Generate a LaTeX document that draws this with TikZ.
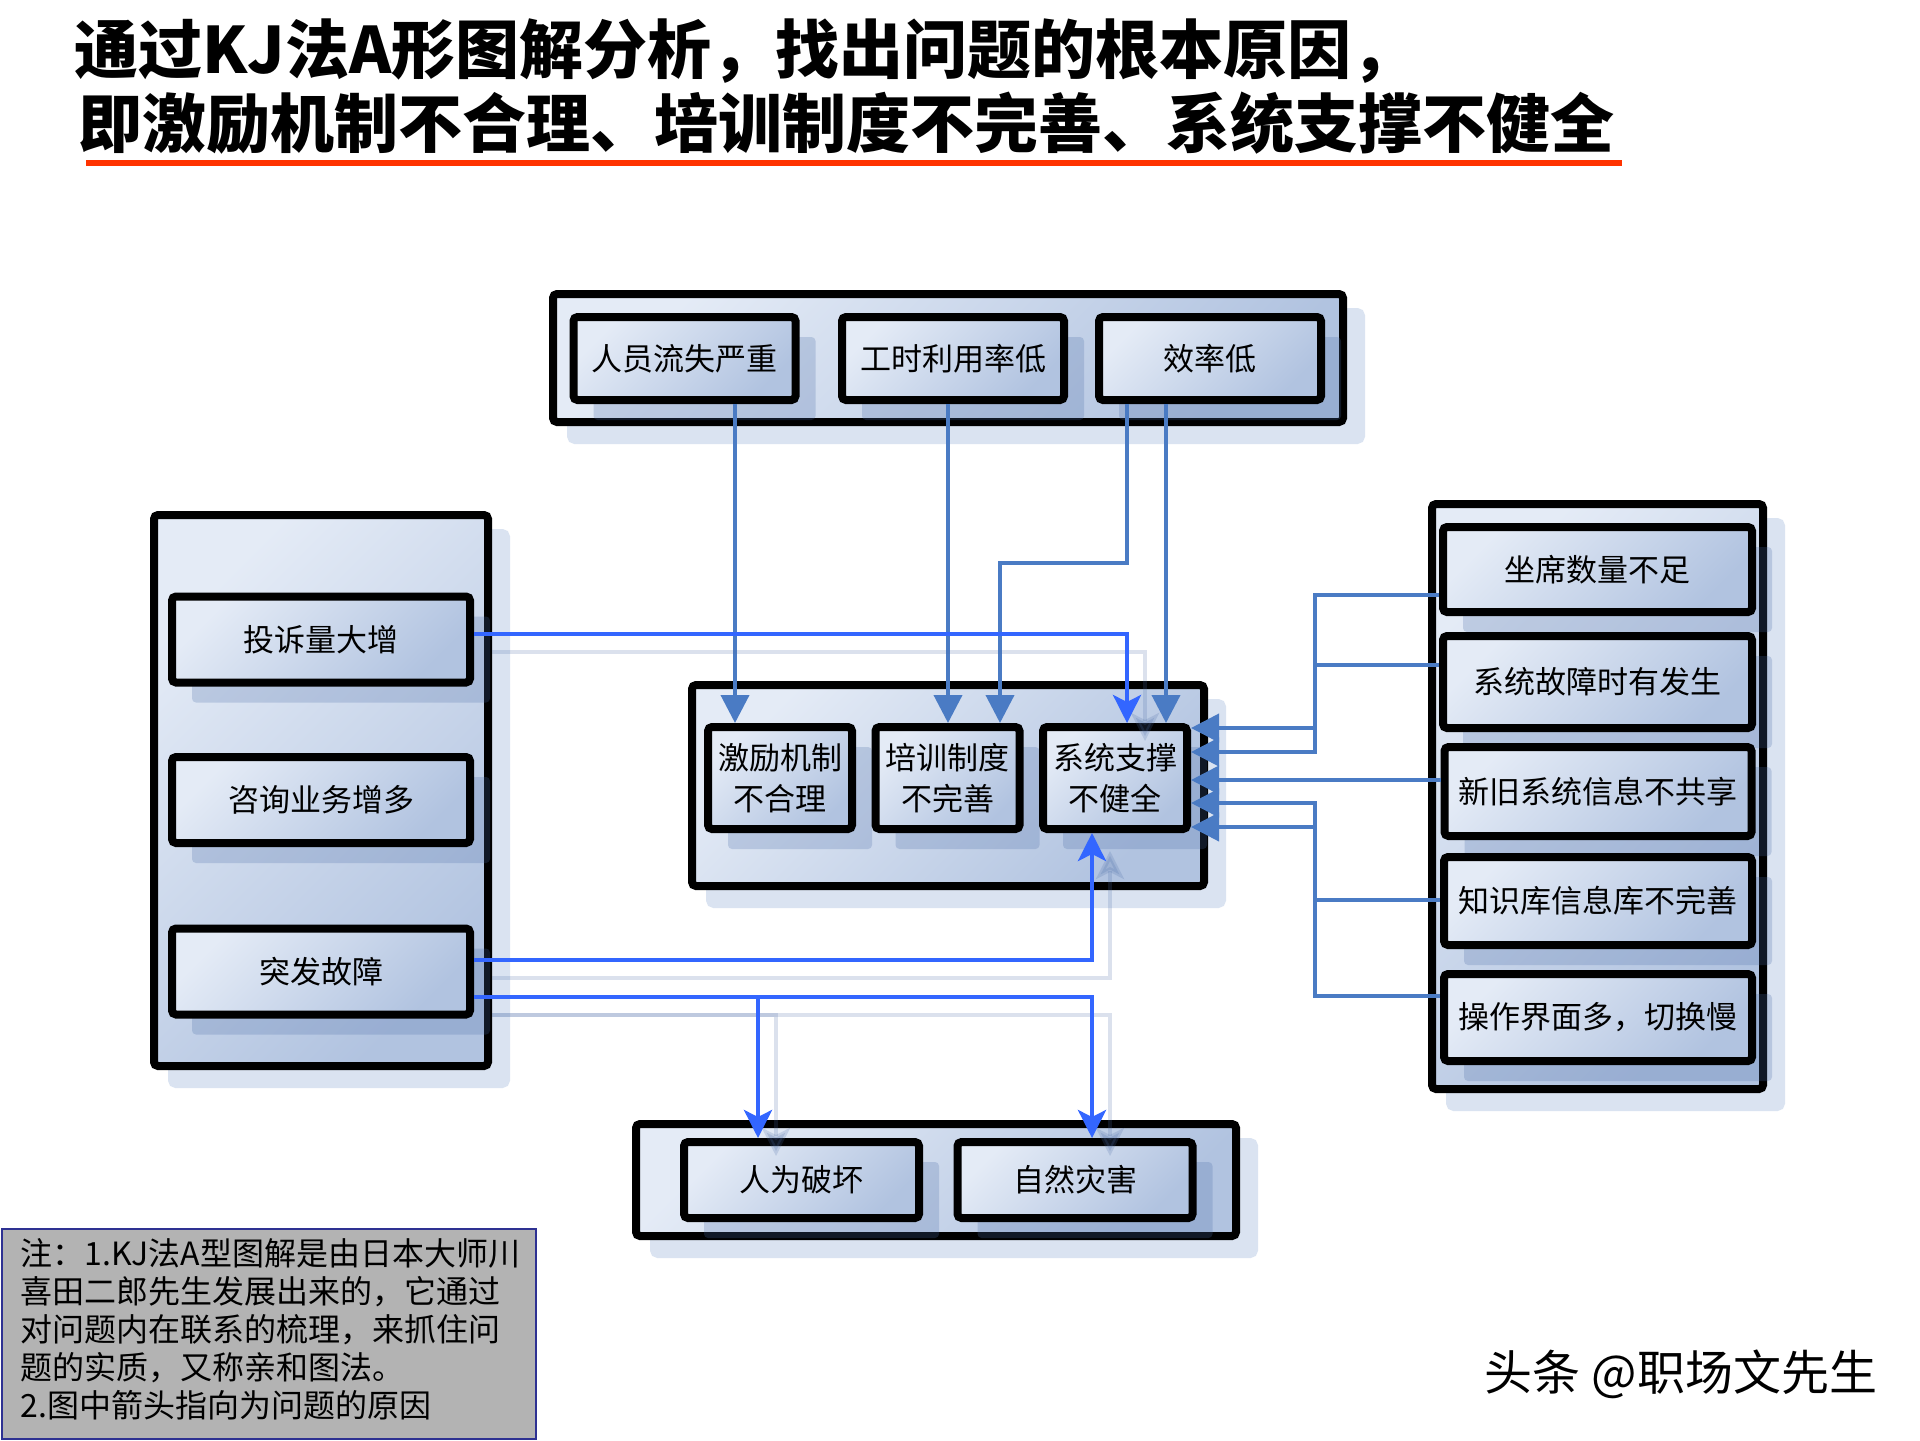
\documentclass[tikz,border=0pt]{standalone}
\usepackage{fontspec}
\setmainfont{Noto Sans CJK SC}
\usetikzlibrary{arrows.meta,shadows}
\definecolor{boxlight}{HTML}{E4EBF6}
\definecolor{boxdark}{HTML}{B1C3E0}
\definecolor{gshadow}{HTML}{DAE3F1}
\definecolor{ishadow}{RGB}{75,108,167}
\definecolor{steel}{HTML}{4A7BC4}
\definecolor{brightb}{HTML}{3366FF}
\definecolor{titlered}{HTML}{FF3300}
\definecolor{notegray}{HTML}{B3B3B3}
\definecolor{noteedge}{HTML}{2E3192}
\newcommand\labfont{\fontsize{15.5pt}{20.5pt}\selectfont}
\newcommand\notefont{\fontsize{16pt}{19pt}\selectfont}
\newcommand\titlefont{\fontsize{32pt}{38pt}\selectfont\bfseries}
\begin{document}
\begin{tikzpicture}[x=0.5pt,y=-0.5pt,
  grp/.style={draw=black, line width=4pt, rounded corners=2pt,
    top color=boxlight, bottom color=boxdark, shading angle=45, inner sep=0pt,
    drop shadow={shadow xshift=9pt, shadow yshift=-9pt, fill=gshadow, draw=gshadow, line width=4pt, opacity=1}},
  ibox/.style={draw=black, line width=4pt, rounded corners=2pt,
    top color=boxlight, bottom color=boxdark, shading angle=45, inner sep=0pt,
    align=center, font=\labfont, text=black,
    drop shadow={shadow xshift=10pt, shadow yshift=-10pt, fill=ishadow, opacity=0.24}},
  sline/.style={draw=steel, line width=2pt, -{Triangle[length=14pt,width=14pt]}},
  bline/.style={draw=brightb, line width=2.2pt, -{Stealth[length=14pt,width=14pt,inset=3.5pt]}},
  bshadow/.style={bline, draw=ishadow, opacity=0.2, transform canvas={xshift=9pt,yshift=-9pt}}
]
\fill[white] (0,0) rectangle (1920,1440);
\useasboundingbox (0,0) rectangle (1920,1440);

% title
\node[anchor=west, font=\titlefont, inner sep=0pt] (t1) at (74,51) {通过KJ法A形图解分析，找出问题的根本原因，};
\node[anchor=west, font=\titlefont, inner sep=0pt] (t2) at (78,123) {即激励机制不合理、培训制度不完善、系统支撑不健全};
\draw[titlered, line width=3pt] (86,163) -- (1622,163);

% groups
\node[grp, minimum width=395pt, minimum height=64pt] (TG) at (948,358) {};
\node[grp, minimum width=256pt, minimum height=100.5pt] (CG) at (948,785.5) {};
\node[grp, minimum width=167pt, minimum height=275.5pt] (LG) at (321,790.5) {};
\node[grp, minimum width=165.5pt, minimum height=292.5pt] (RG) at (1597.5,796.5) {};
\node[grp, minimum width=300pt, minimum height=56pt] (BG) at (936,1180) {};

% top boxes
\node[ibox, minimum width=111pt, minimum height=41.5pt] (A) at (684.5,358.5) {人员流失严重};
\node[ibox, minimum width=111pt, minimum height=41.5pt] (B) at (953,358.5) {工时利用率低};
\node[ibox, minimum width=111pt, minimum height=41.5pt] (C) at (1210,358.5) {效率低};

% center boxes
\node[ibox, minimum width=72pt, minimum height=51pt] (M1) at (780,778) {激励机制\\不合理};
\node[ibox, minimum width=72pt, minimum height=51pt] (M2) at (947.5,778) {培训制度\\不完善};
\node[ibox, minimum width=72pt, minimum height=51pt] (M3) at (1115,778) {系统支撑\\不健全};

% left boxes
\node[ibox, minimum width=149pt, minimum height=43pt] (L1) at (321,639.5) {投诉量大增};
\node[ibox, minimum width=149pt, minimum height=43pt] (L2) at (321,800) {咨询业务增多};
\node[ibox, minimum width=149pt, minimum height=43pt] (L3) at (321,971.5) {突发故障};

% right boxes
\node[ibox, minimum width=154.5pt, minimum height=42.5pt] (R1) at (1597.5,569.5) {坐席数量不足};
\node[ibox, minimum width=154.5pt, minimum height=46pt] (R2) at (1597.5,682) {系统故障时有发生};
\node[ibox, minimum width=153.5pt, minimum height=44.5pt] (R3) at (1598,791.5) {新旧系统信息不共享};
\node[ibox, minimum width=154pt, minimum height=44pt] (R4) at (1598,901) {知识库信息库不完善};
\node[ibox, minimum width=154pt, minimum height=43.5pt] (R5) at (1598,1017.5) {操作界面多，切换慢};

% bottom boxes
\node[ibox, minimum width=117.5pt, minimum height=38pt] (B1) at (801.5,1180) {人为破坏};
\node[ibox, minimum width=117.5pt, minimum height=38pt] (B2) at (1075,1180) {自然灾害};

% helper coordinates
\coordinate (xA) at (735,0);
\coordinate (xB) at (948,0);
\coordinate (xC1) at (1127,0);
\coordinate (xC2) at (1166,0);
\coordinate (xM2b) at (1000,0);
\coordinate (yC) at (0,563);
\coordinate (xT) at (1315,0);
\coordinate (xU) at (1092,0);
\coordinate (xV) at (758,0);
\coordinate (h634) at (0,634);
\coordinate (h960) at (0,960);
\coordinate (h997) at (0,997);
\coordinate (hR1) at (0,595);
\coordinate (hR2) at (0,665);
\coordinate (hR3) at (0,780);
\coordinate (hR4) at (0,900);
\coordinate (hR5) at (0,996);
\coordinate (hA1) at (0,728);
\coordinate (hA2) at (0,752);
\coordinate (hA4) at (0,803);
\coordinate (hA5) at (0,827);

% steel connectors from top
\draw[sline] (A.south -| xA) -- (M1.north -| xA);
\draw[sline] (B.south -| xB) -- (M2.north -| xB);
\draw[sline] (C.south -| xC1) -- (xC1 |- yC) -- (xM2b |- yC) -- (M2.north -| xM2b);
\draw[sline] (C.south -| xC2) -- (M3.north -| xC2);

% steel connectors from right
\draw[sline] (R1.west |- hR1) -- (xT |- hR1) -- (xT |- hA1) -- (M3.east |- hA1);
\draw[sline] (R2.west |- hR2) -- (xT |- hR2) -- (xT |- hA2) -- (M3.east |- hA2);
\draw[sline] (R3.west |- hR3) -- (M3.east |- hR3);
\draw[sline] (R4.west |- hR4) -- (xT |- hR4) -- (xT |- hA4) -- (M3.east |- hA4);
\draw[sline] (R5.west |- hR5) -- (xT |- hR5) -- (xT |- hA5) -- (M3.east |- hA5);

% bright connectors: shadows
\draw[bshadow] (L1.east |- h634) -| (M3.north -| xC1);
\draw[bshadow] (L3.east |- h960) -| (M3.south -| xU);
\draw[bshadow] (L3.east |- h997) -| (B2.north -| xU);
\draw[bshadow] (L3.east |- h997) -| (B1.north -| xV);
% bright connectors
\draw[bline] (L1.east |- h634) -| (M3.north -| xC1);
\draw[bline] (L3.east |- h960) -| (M3.south -| xU);
\draw[bline] (L3.east |- h997) -| (B2.north -| xU);
\draw[bline] (L3.east |- h997) -| (B1.north -| xV);

% note
\node[draw=noteedge, line width=1pt, fill=notegray, minimum width=267pt, minimum height=105pt, anchor=north west, inner sep=0pt] (noteb) at (1,1228) {};
\node[anchor=north west, align=left, font=\notefont, inner sep=0pt, text=black] (notet) at (20,1238) {注：1.KJ法A型图解是由日本大师川\\喜田二郎先生发展出来的，它通过\\对问题内在联系的梳理，来抓住问\\题的实质，又称亲和图法。\\2.图中箭头指向为问题的原因};

% watermark
\node[font=\fontsize{24pt}{28pt}\selectfont, text=black] (wm) at (1681,1374) {头条 @职场文先生};
\end{tikzpicture}
\end{document}
